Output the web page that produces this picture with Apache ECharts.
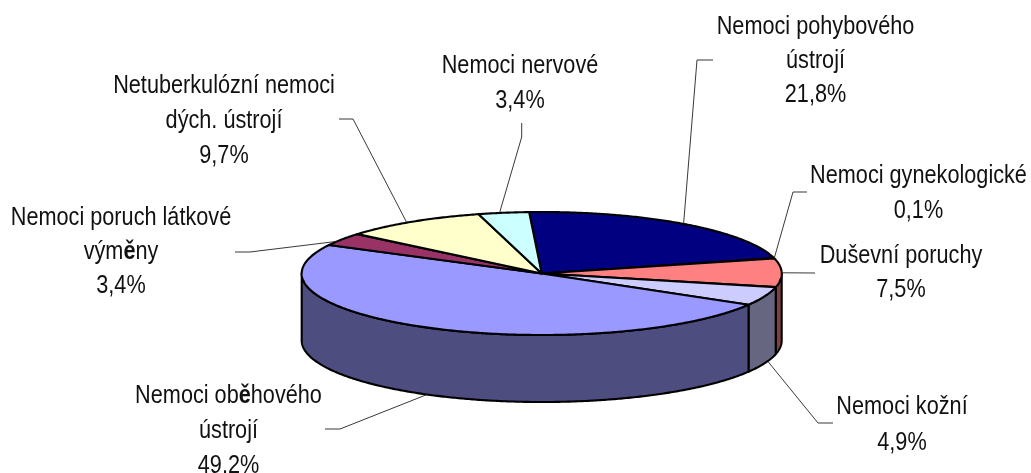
<!DOCTYPE html>
<html><head><meta charset="utf-8">
<style>html,body{margin:0;padding:0;background:#fff}#c{width:1031px;height:473px}</style>
<script src="https://cdn.jsdelivr.net/npm/echarts@6/dist/echarts.min.js"></script>
</head><body><div id="c"></div>
<script>
// Data (clockwise from the top of the pie)
const categories = ['Nemoci pohybového\nústrojí','Nemoci gynekologické','Duševní poruchy','Nemoci kožní','Nemoci ob{b|ě}hového\nústrojí','Nemoci poruch látkové\nvým{b|ě}ny','Netuberkulózní nemoci\ndých. ústrojí','Nemoci nervové'];
const values = [21.8,0.1,7.5,4.9,49.2,3.4,9.7,3.4];

// Styles and layout
const topColors  = ['#000080','#660066','#FF8080','#CCCCFF','#9999FF','#993366','#FFFFCC','#CCFFFF'];
const sideColors = ['#000040','#330033','#804040','#666680','#4D4D80','#4D1A33','#808066','#668080'];
const pie = {cx:541.7, cy:273.5, rx:240, ry:61.5, depth:67, start:-3};
const labelCenters = [[815.5,27],[918.5,176],[901,256],[902,407],[228.5,396],[121,218],[224,86],[520,66]];
const lineGap = [34,35,34,36,35,34,35,35];
const leaderElbows = [[[713,60],[697,60]],[[807,192],[793,192]],[[815,273]],[[833,423],[818,423]],[[325,429],[340,429]],[[235,252],[250,252]],[[339,119],[353,119]],[[521.7,123],[521.7,137]]];
const leaderOnWall = [false,false,false,true,true,false,false,false];
const leaderShift = [0,0,0,-2,-0.5,-2.2,-1.5,-1];
const fontFamily = '"Liberation Sans",Arial,sans-serif';
const font = '25.5px '+fontFamily;
const boldFont = 'bold 25.5px '+fontFamily;
const narrow = 0.85;

const total = values.reduce((a,b)=>a+b,0);
function angles(i){
  let s=0; for(let k=0;k<i;k++) s+=values[k];
  return [pie.start+s/total*360, pie.start+(s+values[i])/total*360];
}
function rim(t,dz){
  const r=t*Math.PI/180;
  return [pie.cx+pie.rx*Math.sin(r), pie.cy-pie.ry*Math.cos(r)+(dz||0)];
}
function arc(a,b,dz){
  const pts=[], n=Math.max(2,Math.ceil(Math.abs(b-a)*2));
  for(let k=0;k<=n;k++) pts.push(rim(a+(b-a)*k/n,dz));
  return pts;
}
const stroke={stroke:'#000',lineWidth:2.1,lineJoin:'round'};
const seriesData = values.map((v,i)=>({name:categories[i],value:[v,i]}));

function renderWall(p,api){
  const [a,b]=angles(api.value(1));
  const lo=Math.max(a,90), hi=Math.min(b,270);
  if(hi<=lo) return {type:'group',children:[]};
  const pts=arc(lo,hi,0).concat(arc(hi,lo,pie.depth));
  return {type:'polygon',silent:true,shape:{points:pts},style:Object.assign({fill:sideColors[api.value(1)]},stroke)};
}
function renderTop(p,api){
  const i=api.value(1), [a,b]=angles(i);
  const pts=[[pie.cx,pie.cy]].concat(arc(a,b,0));
  return {type:'polygon',silent:true,shape:{points:pts},style:Object.assign({fill:topColors[i]},stroke)};
}
function renderLabel(p,api){
  const i=api.value(1), [a,b]=angles(i), children=[];
  const end=rim((a+b)/2+leaderShift[i], leaderOnWall[i]?pie.depth:0);
  children.push({type:'polyline',silent:true,shape:{points:leaderElbows[i].concat([end])},style:{fill:null,stroke:'#222',lineWidth:0.9}});
  const lines=categories[i].split('\n').concat([api.value(0).toFixed(1).replace('.',',')+'%']);
  lines.forEach((t,k)=>children.push({type:'text',silent:true,
    x:labelCenters[i][0],y:labelCenters[i][1]+k*lineGap[i],scaleX:narrow,
    style:{text:t,x:0,y:0,align:'center',verticalAlign:'middle',
    font:font,fill:'#111',rich:{b:{font:boldFont,fill:'#111'}}}}));
  return {type:'group',children};
}
const base={type:'custom',coordinateSystem:'none',data:seriesData,animation:false,silent:true,clip:false};
const chart=echarts.init(document.getElementById('c'),null,{renderer:'canvas'});
chart.setOption({
  backgroundColor:'#fff',animation:false,
  series:[
    Object.assign({},base,{z:1,renderItem:renderWall}),
    Object.assign({},base,{z:2,renderItem:renderTop}),
    Object.assign({},base,{z:3,renderItem:renderLabel})
  ]
});
</script></body></html>
